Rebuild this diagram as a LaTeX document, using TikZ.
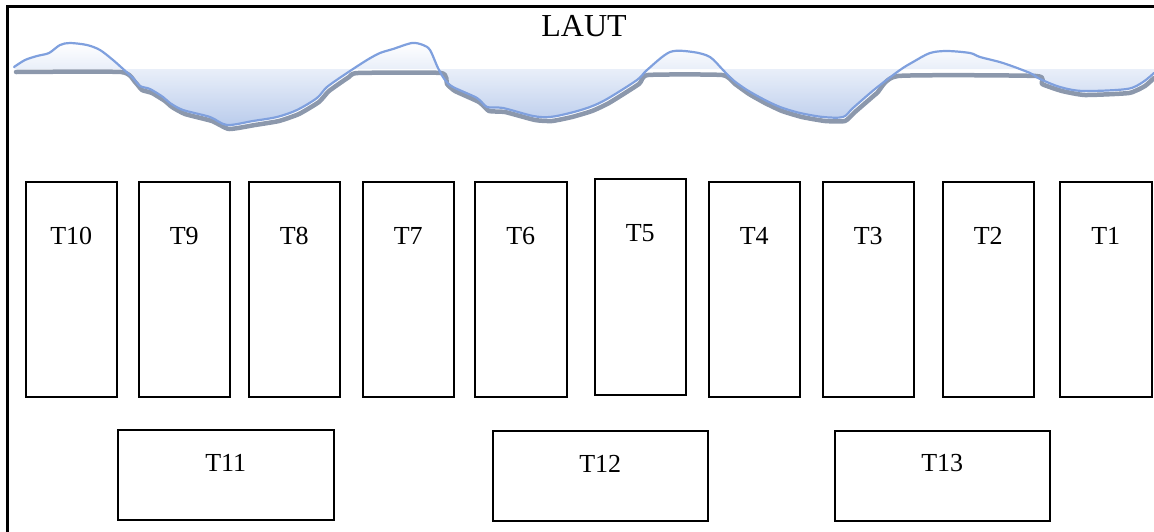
\documentclass[tikz,border=0pt]{standalone}
\usepackage{fontspec}
\setmainfont{Liberation Serif}
\usetikzlibrary{calc}
\definecolor{wave}{RGB}{127,160,222}
\definecolor{shadowgray}{RGB}{140,152,172}
\definecolor{deepwater}{RGB}{186,204,236}
\begin{document}
\begin{tikzpicture}[x=1pt,y=-1pt,
  frameline/.style={draw=black, line width=2.2pt},
  tbox/.style={draw=black, line width=1.5pt, inner sep=0pt, anchor=north west},
  tall/.style={tbox, minimum width=91pt, minimum height=215pt},
  wide/.style={tbox, minimum width=215pt, minimum height=90pt},
  tlabel/.style={inner sep=0pt, font=\fontsize{26}{30}\selectfont},
  titlelabel/.style={inner sep=0pt, font=\fontsize{32}{38}\selectfont}]
\useasboundingbox (0,0) rectangle (1154,531);

% outer frame (only its top and left sides fall on the page)
\draw[frameline] (7.5,545) -- (7.5,6.5) -- (1170,6.5);

% sea: tinted water between the shore line and the water level
\shade[top color=white, bottom color=deepwater]
  plot[smooth, tension=0.5] coordinates {
   (14,67) (25,60) (37,56) (49,53) (60,45) (70,43) (87,45) (100,50) (113,60)
   (122,68) (133,78) (140,86) (150,89) (163,97) (170,103) (183,110) (210,117)
   (227,125) (253,121) (277,117) (297,110) (317,98) (327,87) (347,73) (367,60)
   (380,53) (393,49) (412,43) (423,45) (430,50) (438,68) (445,80) (453,87)
   (477,98) (487,107) (503,108) (533,116) (550,117) (570,113) (590,107)
   (607,99) (637,80) (647,70) (670,52) (693,52) (710,57) (723,70) (733,80)
   (747,90) (763,99) (780,107) (800,113) (823,117) (843,117) (853,108)
   (875,89) (900,70) (913,62) (930,53) (947,51) (970,53) (980,57) (1003,63)
   (1030,73) (1040,79) (1060,87) (1083,91) (1127,89) (1143,82) (1154,73)}
  -- (1154,69) -- (14,69) -- cycle;

% grey ground shadow under the shore
\draw[shadowgray, line width=4.5pt, line join=round, line cap=round]
  plot[smooth, tension=0.3] coordinates {
   (16,72) (121,72) (135,82) (142,90) (152,93) (165,101) (172,107) (185,114)
   (212,121) (229,129) (255,125) (279,121) (299,114) (319,102) (329,91)
   (349,77) (358,73) (441,73) (447,84) (455,91) (479,102) (489,111) (505,112)
   (535,120) (552,121) (572,117) (592,111) (609,103) (639,84) (648,75)
   (722,75) (735,84) (749,94) (765,103) (782,111) (802,117) (825,121)
   (845,121) (855,112) (877,93) (898,76) (1036,76) (1042,84) (1062,91)
   (1085,95) (1129,93) (1145,86) (1154,78)};

% shore line
\draw[wave, line width=2.2pt, line join=round, line cap=round]
  plot[smooth, tension=0.5] coordinates {
   (14,67) (25,60) (37,56) (49,53) (60,45) (70,43) (87,45) (100,50) (113,60)
   (122,68) (133,78) (140,86) (150,89) (163,97) (170,103) (183,110) (210,117)
   (227,125) (253,121) (277,117) (297,110) (317,98) (327,87) (347,73) (367,60)
   (380,53) (393,49) (412,43) (423,45) (430,50) (438,68) (445,80) (453,87)
   (477,98) (487,107) (503,108) (533,116) (550,117) (570,113) (590,107)
   (607,99) (637,80) (647,70) (670,52) (693,52) (710,57) (723,70) (733,80)
   (747,90) (763,99) (780,107) (800,113) (823,117) (843,117) (853,108)
   (875,89) (900,70) (913,62) (930,53) (947,51) (970,53) (980,57) (1003,63)
   (1030,73) (1040,79) (1060,87) (1083,91) (1127,89) (1143,82) (1154,73)};

\node[titlelabel] (laut) at (584,26) {LAUT};

% upper row of plots
\node[tall] (t10) at (25,181) {};
\node[tall] (t9)  at (138,181) {};
\node[tall] (t8)  at (248,181) {};
\node[tall] (t7)  at (362,181) {};
\node[tall, minimum width=92pt] (t6) at (474,181) {};
\node[tall, minimum height=216pt] (t5) at (594,178) {};
\node[tall] (t4)  at (708,181) {};
\node[tall] (t3)  at (822,181) {};
\node[tall] (t2)  at (942,181) {};
\node[tall, minimum width=92pt] (t1) at (1059,181) {};

\foreach \n in {10,9,8,7,6,5,4,3,2,1}
  \node[tlabel] (l\n) at ($(t\n.north)+(0,55)$) {T\n};

% lower row of plots
\node[wide, minimum width=216pt] (t11) at (117,429) {};
\node[wide] (t12) at (492,430) {};
\node[wide] (t13) at (834,430) {};

\foreach \n in {11,12,13}
  \node[tlabel] (l\n) at ($(t\n.north)+(0,33.5)$) {T\n};
\end{tikzpicture}
\end{document}
